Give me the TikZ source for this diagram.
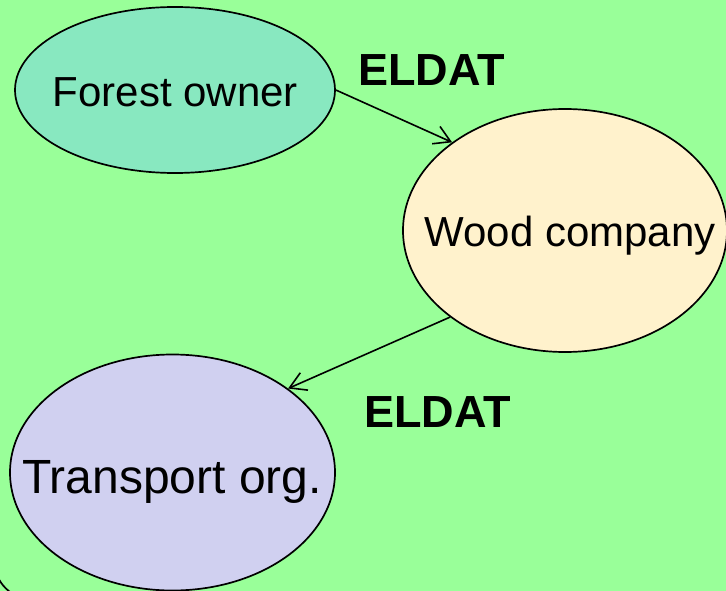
\documentclass[tikz,border=0pt]{standalone}
\usepackage{fontspec}
\setmainfont{Liberation Sans}
\usetikzlibrary{shapes.geometric,arrows.meta}
\definecolor{bggreen}{RGB}{153,255,153}
\definecolor{forestfill}{RGB}{136,232,192}
\definecolor{woodfill}{RGB}{255,242,204}
\definecolor{transfill}{RGB}{208,208,240}
\tikzset{
  oval/.style={ellipse, draw=black, line width=1.7pt, inner sep=0pt},
  lbl/.style={anchor=base, inner sep=0pt, font=\fontsize{42}{50}\selectfont},
  eldat/.style={anchor=base, inner sep=0pt, font=\fontsize{45}{54}\selectfont\bfseries},
  flow/.style={line width=1.6pt, -{Straight Barb[length=16pt,width=19pt,line width=1.6pt]}}
}
\begin{document}
\begin{tikzpicture}[x=1pt,y=-1pt]
\useasboundingbox (0,0) rectangle (726,591);
\clip (0,0) rectangle (726,591);
\fill[bggreen] (0,0) rectangle (726,591);
\draw[line width=1.7pt, rounded corners=40pt] (-6,-100) rectangle (800,600);
% ellipses
\node[oval, fill=forestfill, minimum width=320pt, minimum height=166pt] (fo) at (175,90) {};
\node[oval, fill=woodfill, minimum width=324pt, minimum height=243pt] (wc) at (565,230.5) {};
\node[oval, fill=transfill, minimum width=325pt, minimum height=236pt] (tr) at (172.5,472.5) {};
% texts
\node[lbl] (fot) at (175.5,107) {Forest owner};
\node[lbl] (wct) at (570,247) {Wood company};
\node[lbl, font=\fontsize{48}{56}\selectfont] (trt) at (172,493) {Transport org.};
\node[eldat] (e1) at (431.5,86) {ELDAT};
\node[eldat] (e2) at (437.5,427) {ELDAT};
% connectors
\draw[flow] (fo.east) -- (wc.142.2);
\draw[flow] (wc.217.8) -- (tr.36.2);
\end{tikzpicture}
\end{document}
